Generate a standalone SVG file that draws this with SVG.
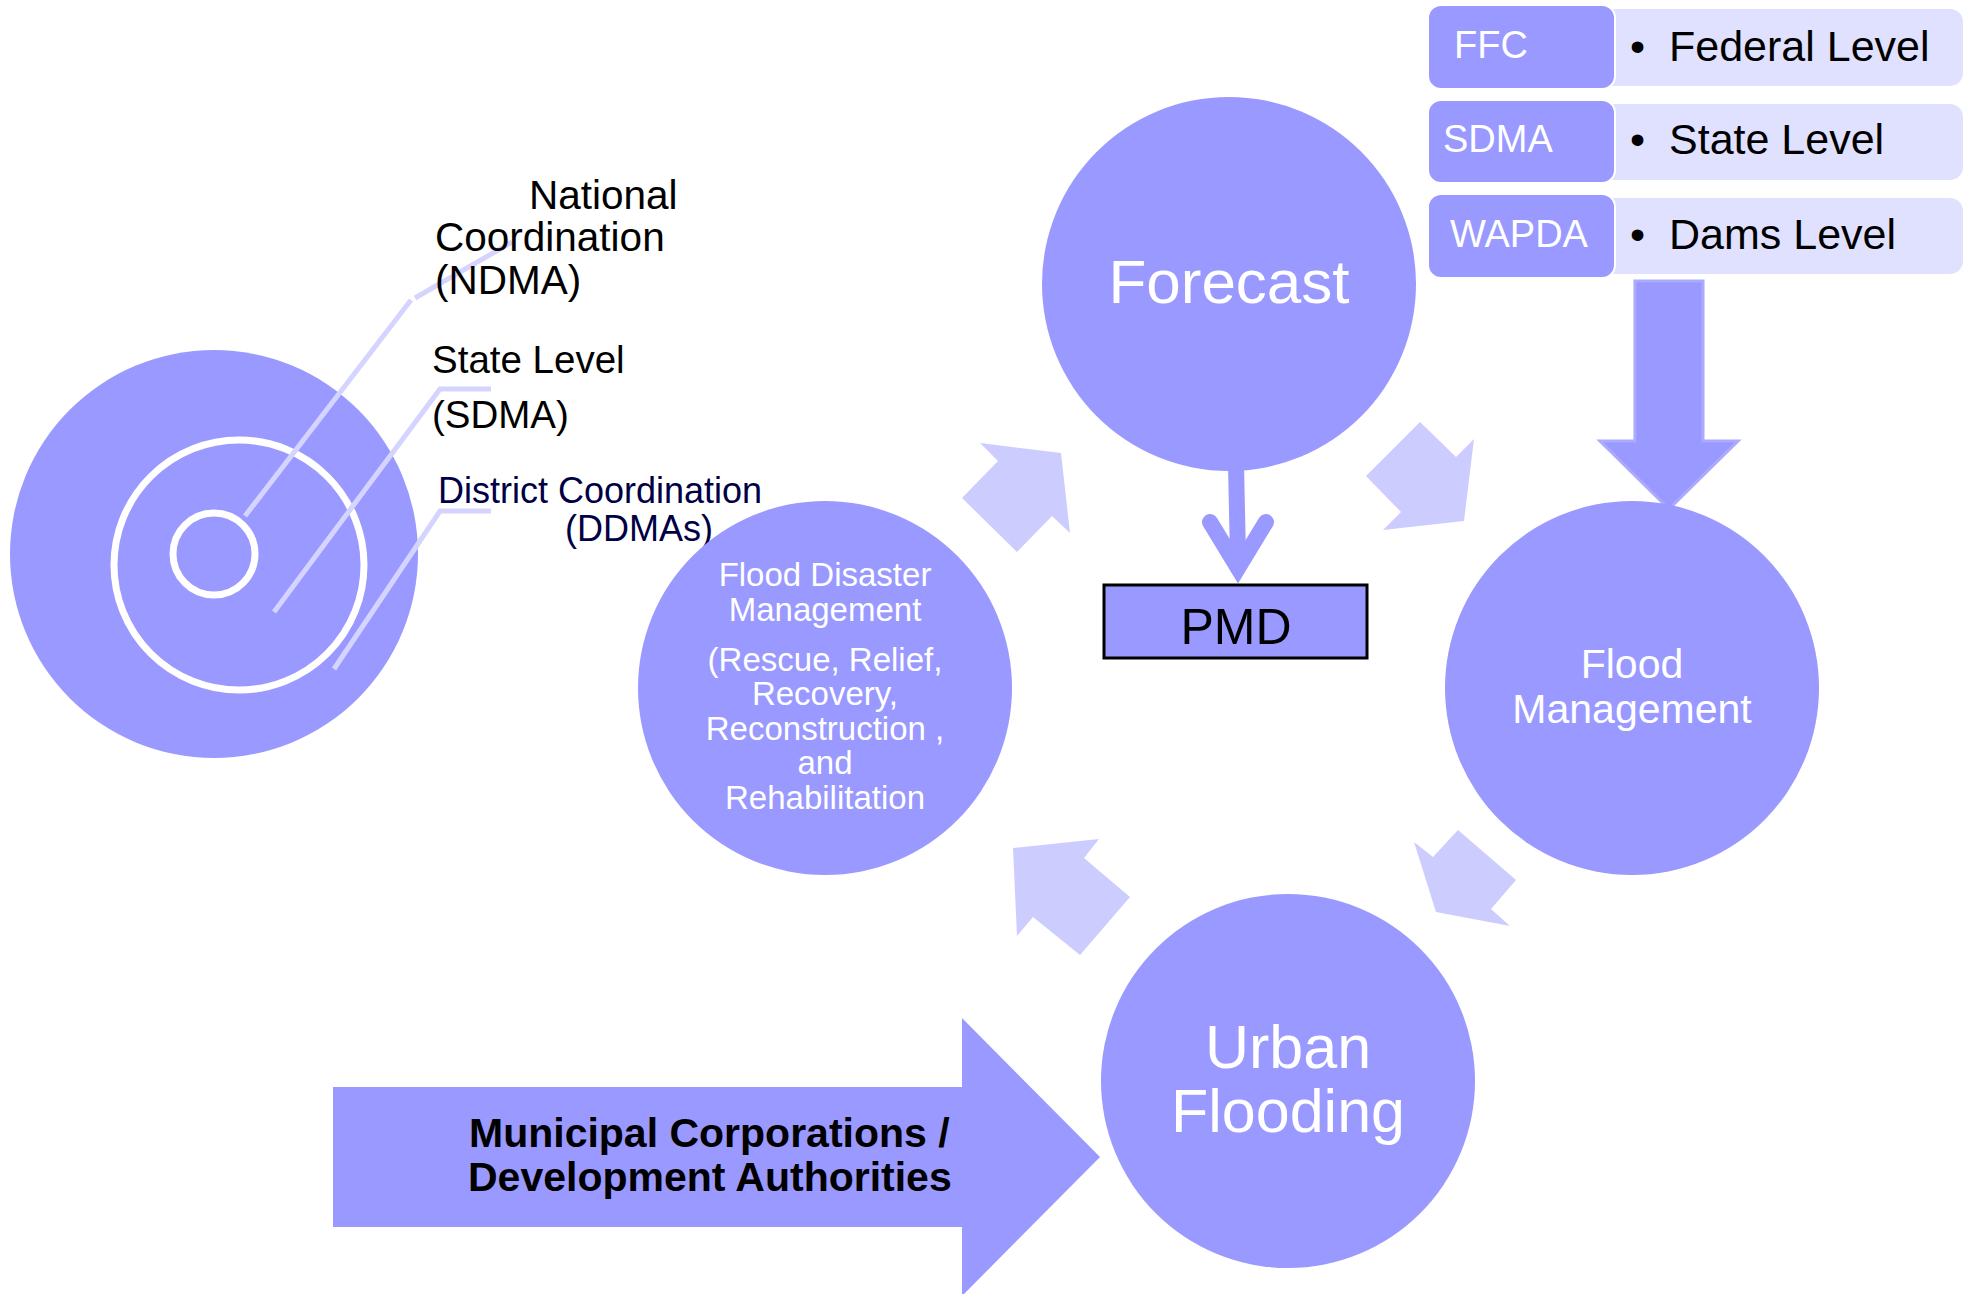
<svg xmlns="http://www.w3.org/2000/svg" width="1969" height="1294" viewBox="0 0 1969 1294">
<style>
text{font-family:"Liberation Sans",Arial,sans-serif}
.c{fill:#9999FF}
.lt{fill:#CCCCFF}
.pale{fill:#E0E0FF}
.wt{fill:#FFFFFF}
.bk{fill:#000000}
.ring{fill:none;stroke:#FFFFFF;stroke-width:7}
.lead{fill:none;stroke:#D4D4FF;stroke-width:5}
</style>
<rect width="1969" height="1294" fill="#FFFFFF"/>

<g id="coordination-target">
  <circle class="c" cx="214" cy="554" r="204"/>
  <circle class="ring" cx="239" cy="565" r="125"/>
  <circle class="ring" cx="214" cy="554" r="41"/>
</g>

<g id="leader-lines">
  <path class="lead" d="M245,516 L411,300"/>
  <path class="lead" d="M415,298 L512,242"/>
  <path class="lead" d="M491,389 L440,389 L274,612"/>
  <path class="lead" d="M491,511 L440,511 L334,669"/>
</g>

<g id="label-ndma" font-size="40.5" class="bk">
  <text x="529" y="209">National</text>
  <text x="435" y="251">Coordination</text>
  <text x="435" y="294">(NDMA)</text>
</g>
<g id="label-sdma" font-size="38.5" class="bk">
  <text x="432" y="373">State Level</text>
  <text x="432" y="428">(SDMA)</text>
</g>
<g id="label-ddma" font-size="36" fill="#000044">
  <text x="438" y="503">District Coordination</text>
  <text x="565" y="541">(DDMAs)</text>
</g>

<g id="connectors">
  <polygon class="lt" points="980,443 1061,453 1070,533 1052,516 1017,552 962,498 998,461"/>
  <polygon class="lt" points="1420,422 1456,457 1474,439 1464,521 1383,530 1401,512 1366,476"/>
  <polygon class="lt" points="1414,842 1433,857 1458,830 1516,880 1491,909 1510,926 1436,912"/>
  <polygon class="lt" points="1013,848 1099,839 1084,858 1130,897 1080,955 1033,917 1017,936"/>
  <g id="forecast-to-pmd" fill="none" stroke="#9999FF" stroke-width="16">
    <path d="M1236,465 L1238,556"/>
    <path d="M1210,522 L1238,568 L1266,522" stroke-linecap="round" stroke-linejoin="miter" stroke-miterlimit="6"/>
  </g>
  <polygon id="agencies-to-flood-management" class="c" stroke="#AAAAFF" stroke-width="3" points="1635,281 1703,281 1703,441 1738,441 1669,509 1600,441 1635,441"/>
</g>

<g id="forecast">
  <circle class="c" cx="1229" cy="284" r="187"/>
  <text class="wt" x="1229" y="303" font-size="62" text-anchor="middle">Forecast</text>
</g>

<g id="pmd">
  <rect x="1104" y="585" width="263" height="73" fill="#9999FF" stroke="#000000" stroke-width="3"/>
  <text class="bk" x="1236" y="644" font-size="50" text-anchor="middle">PMD</text>
</g>

<g id="flood-disaster-management">
  <circle class="c" cx="825" cy="688" r="187"/>
  <g class="wt" font-size="33" text-anchor="middle">
    <text x="825" y="586">Flood Disaster</text>
    <text x="825" y="621">Management</text>
    <text x="825" y="671">(Rescue, Relief,</text>
    <text x="825" y="705">Recovery,</text>
    <text x="825" y="740">Reconstruction ,</text>
    <text x="825" y="774">and</text>
    <text x="825" y="809">Rehabilitation</text>
  </g>
</g>

<g id="flood-management">
  <circle class="c" cx="1632" cy="688" r="187"/>
  <g class="wt" font-size="41" text-anchor="middle">
    <text x="1632" y="678">Flood</text>
    <text x="1632" y="723">Management</text>
  </g>
</g>

<g id="urban-flooding">
  <circle class="c" cx="1288" cy="1081" r="187"/>
  <g class="wt" font-size="61" text-anchor="middle">
    <text x="1288" y="1068">Urban</text>
    <text x="1288" y="1132">Flooding</text>
  </g>
</g>

<g id="municipal-corporations">
  <polygon class="c" points="333,1087 962,1087 962,1018 1100,1157 962,1296 962,1227 333,1227"/>
  <g class="bk" font-size="41" font-weight="bold">
    <text x="469" y="1147">Municipal Corporations /</text>
    <text x="468" y="1191">Development Authorities</text>
  </g>
</g>

<g id="agency-ffc">
  <rect class="pale" x="1600" y="9" width="363" height="77" rx="13"/>
  <rect class="c" x="1428" y="5" width="187" height="84" rx="13" stroke="#FFFFFF" stroke-width="2"/>
  <text class="wt" x="1454" y="58" font-size="38">FFC</text>
  <text class="bk" font-size="43"><tspan x="1630" y="61">•</tspan><tspan x="1669" y="61">Federal Level</tspan></text>
</g>
<g id="agency-sdma">
  <rect class="pale" x="1600" y="104" width="363" height="76" rx="13"/>
  <rect class="c" x="1428" y="100" width="187" height="83" rx="13" stroke="#FFFFFF" stroke-width="2"/>
  <text class="wt" x="1443" y="152" font-size="38">SDMA</text>
  <text class="bk" font-size="43"><tspan x="1630" y="154">•</tspan><tspan x="1669" y="154">State Level</tspan></text>
</g>
<g id="agency-wapda">
  <rect class="pale" x="1600" y="198" width="363" height="76" rx="13"/>
  <rect class="c" x="1428" y="194" width="187" height="84" rx="13" stroke="#FFFFFF" stroke-width="2"/>
  <text class="wt" x="1450" y="247" font-size="38">WAPDA</text>
  <text class="bk" font-size="43"><tspan x="1630" y="249">•</tspan><tspan x="1669" y="249">Dams Level</tspan></text>
</g>
</svg>
